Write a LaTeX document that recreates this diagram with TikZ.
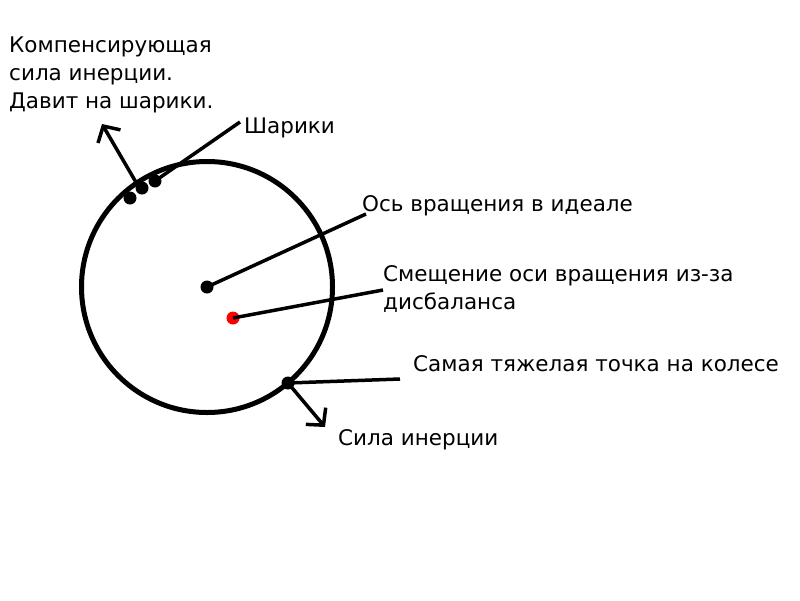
\documentclass[tikz,border=0pt]{standalone}
\usepackage{fontspec}
\setmainfont{DejaVu Sans}
\usetikzlibrary{arrows.meta}
\begin{document}
\begin{tikzpicture}[x=1pt,y=-1pt,
  lbl/.style={anchor=base west,inner sep=0pt,font=\fontsize{21.5}{28}\selectfont,align=left,text=black},
  bdot/.style={circle,fill=black,inner sep=0pt,minimum size=13pt},
  rdot/.style={circle,fill=red,inner sep=0pt,minimum size=13pt},
  lead/.style={line width=3.5pt,black},
  force/.style={line width=3.5pt,black,-{Straight Barb[length=12pt,width=26pt,line width=3.5pt]}}
]
\useasboundingbox (0,0) rectangle (800,600);
\fill[white] (0,0) rectangle (800,600);
\draw[line width=5pt] (207,287) circle (125.5);
% dots
\node[bdot] (b1) at (130,198) {};
\node[bdot] (b2) at (142,188) {};
\node[bdot] (b3) at (155,181) {};
\node[bdot] (c) at (207,287) {};
\node[rdot] (r) at (233,318) {};
\node[bdot] (h) at (288,383) {};
% labels (base anchor = baseline of the last line)
\node[lbl] (t1) at (9,108) {Компенсирующая\\сила инерции.\\Давит на шарики.};
\node[lbl] (t2) at (244,133) {Шарики};
\node[lbl] (t3) at (362,211) {Ось вращения в идеале};
\node[lbl] (t4) at (383,309) {Смещение оси вращения из-за\\дисбаланса};
\node[lbl] (t5) at (413,371) {Самая тяжелая точка на колесе};
\node[lbl] (t6) at (338,445) {Сила инерции};
% coordinates for connector ends
\coordinate (e2) at (240,122);
\coordinate (e3) at (366,214);
\coordinate (e4) at (383,290);
\coordinate (e5) at (400,379);
\coordinate (f1s) at (137,184);
\coordinate (f1) at (102,124);
\coordinate (f2) at (325,427);
% connectors
\draw[lead] (b3.center) -- (e2);
\draw[lead] (c.center) -- (e3);
\draw[lead] (r.center) -- (e4);
\draw[lead] (h.center) -- (e5);
\draw[force] (f1s) -- (f1);
\draw[force] (h.center) -- (f2);
\end{tikzpicture}
\end{document}
